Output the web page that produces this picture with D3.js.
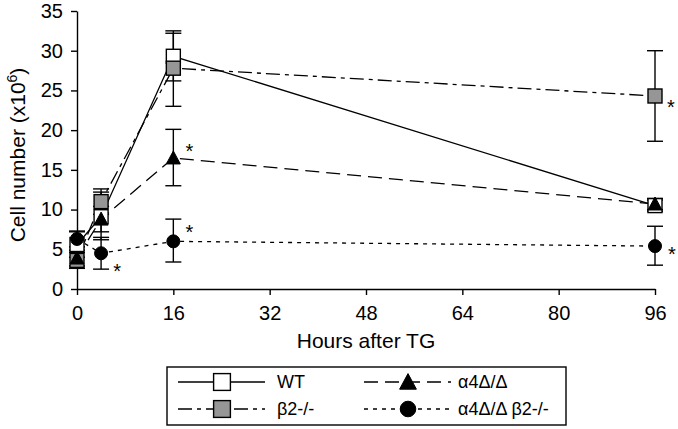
<!DOCTYPE html>
<html><head><meta charset="utf-8">
<script src="https://cdn.jsdelivr.net/npm/d3@7"></script>
<style>body{margin:0;background:#fff}svg{display:block}text{font-family:"Liberation Sans",Arial,sans-serif;fill:#000}</style>
</head><body>
<script>
const hours = [0, 4, 16, 96];
const xTicks = [0, 16, 32, 48, 64, 80, 96];
const yTicks = [0, 5, 10, 15, 20, 25, 30, 35];
const seriesNames = ["WT", "β2-/-", "α4Δ/Δ", "α4Δ/Δ β2-/-"];
const wtMean = [5.6, 9.1, 29.3, 10.5];
const wtLow = [4.0, 6.2, 26.2, 9.8];
const wtHigh = [7.2, 12.2, 32.5, 11.2];
const b2Mean = [3.6, 11.0, 27.8, 24.3];
const b2Low = [2.6, 9.4, 23.0, 18.6];
const b2High = [4.6, 12.6, 32.2, 30.0];
const a4Mean = [3.9, 8.8, 16.5, 10.7];
const a4Low = [2.9, 7.2, 13.0, 10.0];
const a4High = [4.9, 10.4, 20.1, 11.4];
const dkMean = [6.3, 4.5, 6.0, 5.4];
const dkLow = [5.3, 2.5, 3.4, 3.0];
const dkHigh = [7.3, 6.5, 8.8, 7.9];
const starPoints = [["α4Δ/Δ", 16], ["α4Δ/Δ β2-/-", 16], ["α4Δ/Δ β2-/-", 4], ["β2-/-", 96], ["α4Δ/Δ β2-/-", 96]];
const starOffsets = [[16, -11], [16, -13], [16, 14], [16, 7], [17, 4]];

const W = 678, H = 429;
const svg = d3.select("body").append("svg").attr("width", W).attr("height", H);
const x = d3.scaleLinear().domain([0, 96]).range([77, 655]);
const y = d3.scaleLinear().domain([0, 35]).range([289, 11]);

const series = [
  {name: seriesNames[0], mean: wtMean, lo: wtLow, hi: wtHigh, dash: null, marker: "square", fill: "#fff"},
  {name: seriesNames[1], mean: b2Mean, lo: b2Low, hi: b2High, dash: "14,5,4,5", marker: "square", fill: "#969696"},
  {name: seriesNames[2], mean: a4Mean, lo: a4Low, hi: a4High, dash: "14,7", marker: "triangle", fill: "#000"},
  {name: seriesNames[3], mean: dkMean, lo: dkLow, hi: dkHigh, dash: "4,5", marker: "circle", fill: "#000"}
];

// axes
const yAxis = svg.append("g").attr("transform", "translate(77,0)")
  .call(d3.axisLeft(y).tickValues(yTicks).tickSize(6).tickPadding(8).tickSizeOuter(0));
const xAxis = svg.append("g").attr("transform", "translate(0,289)")
  .call(d3.axisBottom(x).tickValues(xTicks).tickSize(6).tickPadding(11).tickSizeOuter(0));
[yAxis, xAxis].forEach(g => {
  g.selectAll("path,line").attr("stroke", "#000").attr("stroke-width", 1.4);
  g.selectAll("text").style("font-size", "20px").attr("fill", "#000");
});

svg.append("text").attr("transform", "translate(25,155) rotate(-90)").attr("text-anchor", "middle")
  .style("font-size", "21px").html('Cell number (x10<tspan dy="-8" style="font-size:14px">6</tspan><tspan dy="8">)</tspan>');
svg.append("text").attr("x", 366).attr("y", 348).attr("text-anchor", "middle").style("font-size", "21px").text("Hours after TG");

function drawMarker(g, type, fill, cx, cy, big) {
  const k = big ? 1.2 : 1;
  if (type === "square") {
    const h = 7 * k;
    g.append("rect").attr("x", cx - h).attr("y", cy - h).attr("width", 2 * h).attr("height", 2 * h)
      .attr("fill", fill).attr("stroke", "#000").attr("stroke-width", 1.4);
  } else if (type === "triangle") {
    g.append("path").attr("d", `M${cx},${cy - 7 * k}L${cx + 7 * k},${cy + 6 * k}L${cx - 7 * k},${cy + 6 * k}Z`).attr("fill", fill).attr("stroke", "#000");
  } else {
    g.append("circle").attr("cx", cx).attr("cy", cy).attr("r", 6.5 * k).attr("fill", fill).attr("stroke", "#000");
  }
}

const line = d3.line().x((d, i) => x(hours[i])).y(d => y(d));
series.forEach(s => {
  svg.append("path").attr("d", line(s.mean)).attr("fill", "none").attr("stroke", "#000")
    .attr("stroke-width", 1.3).attr("stroke-dasharray", s.dash);
});
series.forEach(s => {
  const g = svg.append("g");
  hours.forEach((h, i) => {
    const cx = x(h);
    g.append("line").attr("x1", cx).attr("x2", cx).attr("y1", y(s.lo[i])).attr("y2", y(s.hi[i])).attr("stroke", "#000").attr("stroke-width", 1.4);
    [s.lo[i], s.hi[i]].forEach(v => g.append("line").attr("x1", cx - 8).attr("x2", cx + 8).attr("y1", y(v)).attr("y2", y(v)).attr("stroke", "#000").attr("stroke-width", 1.4));
  });
});
series.forEach(s => {
  const g = svg.append("g");
  hours.forEach((h, i) => drawMarker(g, s.marker, s.fill, x(h), y(s.mean[i])));
});

// asterisks
starPoints.forEach(([name, h], j) => {
  const s = series.find(d => d.name === name);
  const i = hours.indexOf(h);
  const cx = x(h) + starOffsets[j][0], cy = y(s.mean[i]) + starOffsets[j][1];
  svg.append("text").attr("x", cx).attr("y", cy + 11).attr("text-anchor", "middle")
    .style("font-size", "20px").text("*");
});

// legend
const lg = svg.append("g");
lg.append("rect").attr("x", 167).attr("y", 367).attr("width", 399).attr("height", 58)
  .attr("fill", "#fff").attr("stroke", "#000").attr("stroke-width", 1.4);
const pos = [[178, 382, 277], [178, 409, 277], [364, 382, 458], [364, 409, 458]];
series.forEach((s, k) => {
  const [lx, ly, tx] = pos[k];
  lg.append("line").attr("x1", lx).attr("x2", lx + 87).attr("y1", ly).attr("y2", ly).attr("stroke", "#000")
    .attr("stroke-width", 1.3).attr("stroke-dasharray", s.dash);
  drawMarker(lg, s.marker, s.fill, lx + 44, ly, true);
  lg.append("text").attr("x", tx).attr("y", ly + 6).style("font-size", "18px").text(s.name);
});
</script>
</body></html>
